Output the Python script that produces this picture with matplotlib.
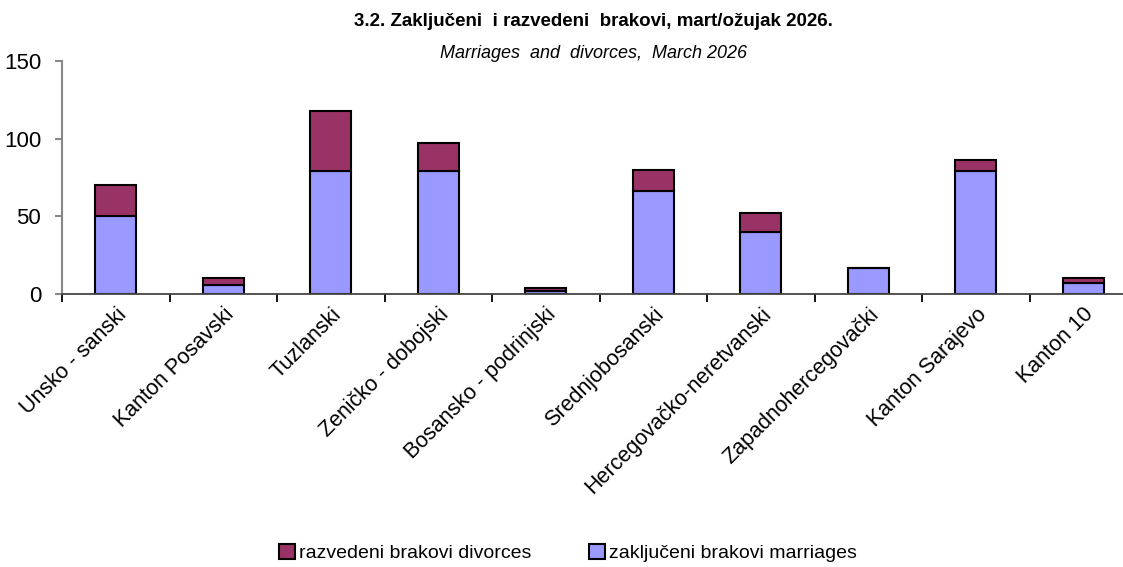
import numpy as np
import matplotlib
matplotlib.use("Agg")
import matplotlib.pyplot as plt
from matplotlib import font_manager

# ===============================
# DATA
# ===============================
cantons = ["Unsko - sanski", "Kanton Posavski", "Tuzlanski", "Zeničko - dobojski",
           "Bosansko - podrinjski", "Srednjobosanski", "Hercegovačko-neretvanski",
           "Zapadnohercegovački", "Kanton Sarajevo", "Kanton 10"]
marriages = [50, 6, 79, 79, 2, 66, 40, 17, 79, 7]
divorces = [20, 4, 39, 18, 2, 14, 12, 0, 7, 3]
y_ticks = [0, 50, 100, 150]

names = {f.name for f in font_manager.fontManager.ttflist}
family = "Liberation Sans Narrow" if "Liberation Sans Narrow" in names else "Liberation Sans"
plt.rcParams["font.family"] = [family, "DejaVu Sans"]

# ===============================
# PLOT
# ===============================
fig = plt.figure(figsize=(11.23, 5.67), dpi=100)
ax = fig.add_axes([62 / 1123, 1 - 294 / 567, 1075 / 1123, 233 / 567])

x = np.arange(len(cantons))
w = 0.38
b1 = ax.bar(x, marriages, w, color="#9999FF", edgecolor="black", lw=1.5,
            label="zaključeni brakovi marriages", zorder=2)
b2 = ax.bar(x, divorces, w, bottom=marriages, color="#993366", edgecolor="black",
            lw=1.5, label="razvedeni brakovi divorces", zorder=2)

ax.set_xlim(-0.5, len(cantons) - 0.5)
ax.set_ylim(0, 150)
ax.set_yticks(y_ticks)
ax.tick_params(axis="y", labelsize=16, length=5, color="#888888", width=1.5, pad=10)
ax.set_xticks(x - 0.5, minor=False)
ax.set_xticklabels([])
ax.set_xticks(x, minor=True)
ax.set_xticklabels(cantons, minor=True, rotation=45, ha="right",
                   rotation_mode="anchor", fontsize=15.5)
ax.tick_params(axis="x", which="major", length=6, width=1.3, color="black")
ax.tick_params(axis="x", which="minor", length=0, pad=7)

for s in ["top", "right"]:
    ax.spines[s].set_visible(False)
ax.spines["left"].set_color("#888888")
ax.spines["left"].set_linewidth(1.5)
ax.spines["bottom"].set_color("#444444")
ax.spines["bottom"].set_linewidth(1.3)

fig.text(593 / 1123, 1 - 22 / 567, "3.2. Zaključeni  i razvedeni  brakovi, mart/ožujak 2026.",
         ha="center", va="center", fontsize=13.5, fontweight="bold")
fig.text(593 / 1123, 1 - 53 / 567, "Marriages  and  divorces,  March 2026",
         ha="center", va="center", fontsize=13, style="italic")

fig.legend(handles=[b2, b1], loc="center", bbox_to_anchor=(568 / 1123, 1 - 553 / 567),
           ncol=2, frameon=False, fontsize=14, handlelength=0.8, handleheight=0.8,
           handletextpad=0.2, columnspacing=3.0)

fig.savefig("out.png", dpi=100)
